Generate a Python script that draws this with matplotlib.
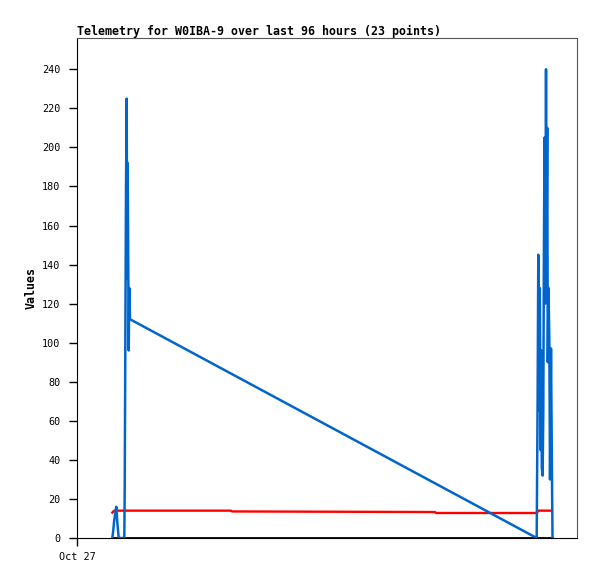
import matplotlib
matplotlib.use('Agg')
import matplotlib.pyplot as plt
import numpy as np

# hours since Oct 27 00:00
blue_t = [6.78, 6.97, 7.10, 7.30, 7.55, 7.74, 8.01, 9.08, 9.16, 9.27, 9.41, 9.54, 9.64,
          9.73, 9.93, 10.04, 10.18, 88.26, 88.44, 88.57, 88.74, 88.86, 89.01, 89.13, 89.24,
          89.40, 89.53, 89.63, 89.76, 89.91, 90.05, 90.16, 90.28, 90.39, 90.53, 90.69,
          90.82, 91.01, 91.20, 91.30]
blue_v = [0, 4, 8, 12, 16, 8, 0, 0, 24, 93, 180, 225, 133,
          192, 96, 128, 112, 0, 72, 145, 65, 128, 45, 96, 36,
          32, 65, 137, 205, 120, 240, 150, 210, 90, 128, 100,
          30, 97, 30, 0]
red_t = [6.78, 7.10, 29.57, 29.76, 68.74, 68.93, 88.32, 88.51, 90.82]
red_v = [13, 14, 14, 13.6, 13.3, 12.8, 12.8, 14, 14]
black_t = [6.78, 91.30]
black_v = [0, 0]

plt.rcParams['font.family'] = 'DejaVu Sans Mono'

fig = plt.figure(figsize=(5.97, 5.79), dpi=100)
ax = fig.add_axes([77/597, 1-538/579, 500/597, 500/579])

ax.plot(black_t, black_v, color='black', linewidth=2, solid_capstyle='butt')
ax.plot(red_t, red_v, color='#ff0000', linewidth=1.7)
ax.plot(blue_t, blue_v, color='#0066cc', linewidth=1.8)

ax.set_xlim(0, 96)
ax.set_ylim(0, 256)
ax.set_yticks(range(0, 241, 20))
ax.set_xticks([0])
ax.set_xticklabels(['Oct 27'])
ax.tick_params(axis='both', direction='out', length=6, width=1, labelsize=7.3, pad=4)
ax.tick_params(axis='y', pad=6)

ax.spines['left'].set_color('black')
ax.spines['bottom'].set_color('black')
ax.spines['top'].set_color('#555555')
ax.spines['right'].set_color('#555555')

ax.set_ylabel('Values', fontsize=8.4, fontweight='bold', labelpad=3)
ax.set_title('Telemetry for W0IBA-9 over last 96 hours (23 points)', loc='left',
             fontsize=8.4, fontweight='bold', pad=2)

fig.savefig('out.png', dpi=100)
